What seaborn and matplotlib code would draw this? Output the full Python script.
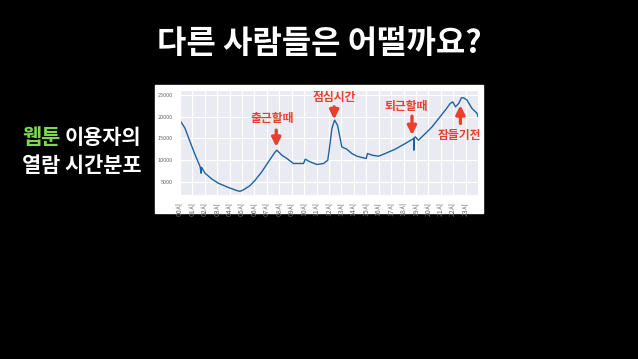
import numpy as np
import pandas as pd
import seaborn as sns
import matplotlib.pyplot as plt
from matplotlib.patches import Rectangle

# webtoon views over the day (minute of day, views)
minutes = [0, 24, 48, 73, 97, 102, 104, 121, 153, 185, 234, 274, 290, 306, 339,
           363, 395, 427, 460, 468, 492, 516, 548, 597, 605, 629, 661, 694, 714,
           722, 734, 747, 761, 774, 782, 806, 830, 855, 887, 900, 906, 928, 960,
           992, 1040, 1089, 1129, 1130, 1131, 1137, 1152, 1186, 1218, 1250, 1282,
           1306, 1318, 1331, 1347, 1360, 1371, 1387, 1411, 1436, 1440]
views = [19150, 17360, 14280, 11180, 8490, 6940, 8300, 6940, 5620, 4630, 3630, 2940, 2750, 3080, 4100,
         5320, 7240, 9560, 11870, 12270, 11110, 10350, 9190, 9190, 10180, 9560, 8960, 9190, 9950,
         12660, 17290, 19210, 18050, 14970, 13030, 12500, 11500, 10880, 10480, 10350, 11500, 11110, 10880,
         11500, 12500, 13820, 14970, 12270, 15100, 15350, 14580, 16130, 17660, 19600, 21530,
         23080, 23450, 22300, 23080, 24380, 24380, 23840, 21920, 20760, 19980]

hour_labels = [f"{h:02d}시" for h in range(24)]
y_ticks = [5000, 10000, 15000, 20000, 25000]

# callouts: text, arrow tip (minute, views), arrow tail, text position
notes = [
    ("출근할때", (465, 13030), (465, 16900), (445, 19560)),
    ("점심시간", (745, 19370), (745, 22290), (748, 24420)),
    ("퇴근할때", (1121, 15740), (1121, 20140), (1091, 22450)),
    ("잠들기전", (1355, 22685), (1355, 18450), (1352, 15620)),
]

sns.set_style("darkgrid")
plt.rcParams['font.family'] = ['Noto Sans CJK KR', 'DejaVu Sans']

W, H = 638, 359
fig = plt.figure(figsize=(W / 100, H / 100), dpi=100, facecolor="black")

# white card behind the chart
fig.add_artist(Rectangle((155 / W, (H - 213) / H), 328 / W, 128 / H,
                         transform=fig.transFigure, color="white", zorder=0))

ax = fig.add_axes([180 / W, (H - 195) / H, 298 / W, (195 - 89.5) / H])
df = pd.DataFrame({"minute": minutes, "views": views})
sns.lineplot(data=df, x="minute", y="views", ax=ax, color="#1b64a0", linewidth=1.0)

ax.set_xlim(0, 1440)
ax.set_ylim(1900, 26300)
ax.set_xticks(range(0, 1440, 60))
ax.set_xticklabels(hour_labels, rotation=90, fontsize=5, color="#666666")
ax.set_yticks(y_ticks)
ax.set_yticklabels([str(v) for v in y_ticks], fontsize=4, color="#666666")
ax.tick_params(axis="both", pad=1.5)
ax.set_xlabel("")
ax.set_ylabel("")

red = "#e8402f"
for text, tip, tail, pos in notes:
    ax.annotate("", xy=tip, xytext=tail,
                arrowprops=dict(arrowstyle="-|>", color=red, lw=2.4,
                                mutation_scale=13, shrinkA=0, shrinkB=0))
    ax.text(pos[0], pos[1], text, color=red, fontsize=8.5, fontweight="bold",
            ha="center", va="center")

fig.text(0.5, (H - 44) / H, "다른 사람들은 어떨까요?", color="white",
         fontsize=23, fontweight="bold", ha="center", va="center")
fig.text(22 / W, (H - 138) / H, "웹툰", color="#7fd94f", fontsize=15,
         fontweight="bold", ha="left", va="center")
fig.text(65 / W, (H - 138) / H, "이용자의", color="white", fontsize=15,
         fontweight="bold", ha="left", va="center")
fig.text(22 / W, (H - 165) / H, "열람 시간분포", color="white", fontsize=15,
         fontweight="bold", ha="left", va="center")

fig.savefig("out.png", dpi=100, facecolor="black")
